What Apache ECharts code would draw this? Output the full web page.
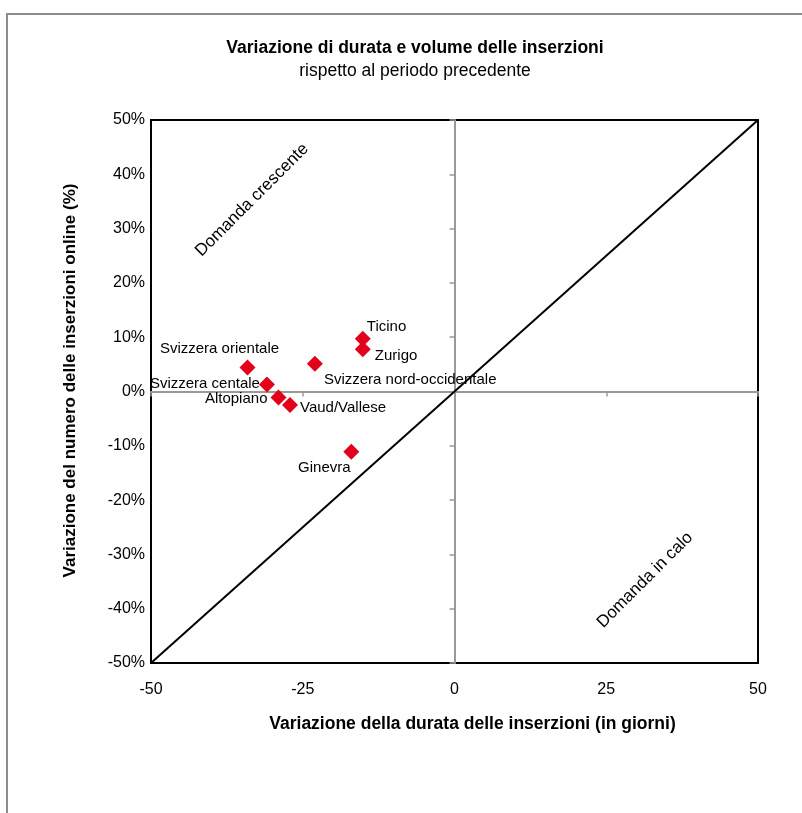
<!DOCTYPE html>
<html><head><meta charset="utf-8">
<script src="https://cdn.jsdelivr.net/npm/echarts@6/dist/echarts.min.js"></script>
<style>html,body{margin:0;padding:0;background:#fff}#c{width:802px;height:813px}</style>
</head><body><div id="c"></div>
<script>
const regions = ['Svizzera orientale','Svizzera centale','Altopiano','Vaud/Vallese','Svizzera nord-occidentale','Ticino','Zurigo','Ginevra'];
const durationChange = [-34.1, -30.9, -29.0, -27.1, -23.0, -15.1, -15.1, -17.0];
const volumeChange = [4.4, 1.3, -1.1, -2.5, 5.1, 9.7, 7.8, -11.1];
const diagonal = [[-50, -50], [50, 50]];
const xTicks = [-50, -25, 0, 25, 50];
const yTicks = [-50, -40, -30, -20, -10, 0, 10, 20, 30, 40, 50];

const FONT = '"Liberation Sans", Arial, sans-serif';
const labelStyle = {
  'Svizzera orientale': {align: 'center', offset: [-28, -19]},
  'Svizzera centale': {align: 'right', offset: [-7, -1]},
  'Altopiano': {align: 'right', offset: [-11, 1]},
  'Vaud/Vallese': {align: 'left', offset: [10, 3]},
  'Svizzera nord-occidentale': {align: 'left', offset: [9, 16]},
  'Ticino': {align: 'left', offset: [4, -12]},
  'Zurigo': {align: 'left', offset: [12, 7]},
  'Ginevra': {align: 'center', offset: [-27, 16]}
};

const points = regions.map((name, i) => ({
  name,
  value: [durationChange[i], volumeChange[i]],
  label: {
    show: true, position: 'inside', formatter: name,
    align: labelStyle[name].align, verticalAlign: 'middle',
    offset: labelStyle[name].offset,
    color: '#000', fontSize: 15, fontFamily: FONT
  }
}));

const chart = echarts.init(document.getElementById('c'), null, {renderer: 'canvas'});
const xMin = xTicks[0], xMax = xTicks[xTicks.length - 1];
const yMin = yTicks[0], yMax = yTicks[yTicks.length - 1];
chart.setOption({
  animation: false,
  title: {
    text: 'Variazione di durata e volume delle inserzioni',
    subtext: 'rispetto al periodo precedente',
    left: 410, top: 34, textAlign: 'center', itemGap: 5,
    textStyle: {fontFamily: FONT, fontSize: 17.5, fontWeight: 'bold', color: '#000'},
    subtextStyle: {fontFamily: FONT, fontSize: 17.5, color: '#000'}
  },
  graphic: [
    {type: 'rect', shape: {x: 7, y: 14, width: 900, height: 900}, style: {fill: 'none', stroke: '#8c8c8c', lineWidth: 2}, z: -1},
    {type: 'text', x: 252, y: 200, rotation: Math.PI / 4, style: {text: 'Domanda crescente', fontFamily: FONT, fontSize: 17, fill: '#000', align: 'center', verticalAlign: 'middle'}},
    {type: 'text', x: 645, y: 580, rotation: Math.PI / 4, style: {text: 'Domanda in calo', fontFamily: FONT, fontSize: 17, fill: '#000', align: 'center', verticalAlign: 'middle'}}
  ],
  grid: {left: 151, top: 120, width: 607, height: 543, show: true, borderColor: '#000', borderWidth: 2, backgroundColor: 'transparent'},
  xAxis: [
    {type: 'value', min: xMin, max: xMax, interval: 25, position: 'bottom',
     axisLine: {show: false, onZero: false}, axisTick: {show: false}, splitLine: {show: false},
     axisLabel: {fontFamily: FONT, fontSize: 16, color: '#000', margin: 19},
     name: 'Variazione della durata delle inserzioni (in giorni)', nameLocation: 'middle', nameGap: 52,
     nameTextStyle: {fontFamily: FONT, fontSize: 17.5, fontWeight: 'bold', color: '#000', padding: [0, 0, 0, 36]}},
    {type: 'value', min: xMin, max: xMax, interval: 25, position: 'bottom',
     axisLine: {show: true, onZero: true, lineStyle: {color: '#999', width: 2}},
     axisTick: {show: true, length: 5, lineStyle: {color: '#999', width: 1.5}},
     axisLabel: {show: false}, splitLine: {show: false}}
  ],
  yAxis: [
    {type: 'value', min: yMin, max: yMax, interval: 10, position: 'left',
     axisLine: {show: false, onZero: false}, axisTick: {show: false}, splitLine: {show: false},
     axisLabel: {fontFamily: FONT, fontSize: 16, color: '#000', margin: 6, formatter: '{value}%'},
     name: 'Variazione del numero delle inserzioni online (%)', nameLocation: 'middle', nameGap: 72, nameRotate: 90,
     nameTextStyle: {fontFamily: FONT, fontSize: 17, fontWeight: 'bold', color: '#000', padding: [0, 0, 0, 22]}},
    {type: 'value', min: yMin, max: yMax, interval: 10, position: 'left',
     axisLine: {show: true, onZero: true, lineStyle: {color: '#999', width: 2}},
     axisTick: {show: true, length: 5, lineStyle: {color: '#999', width: 1.5}},
     axisLabel: {show: false}, splitLine: {show: false}}
  ],
  series: [
    {type: 'line', xAxisIndex: 0, yAxisIndex: 0, data: diagonal, symbol: 'none',
     lineStyle: {color: '#000', width: 2}, silent: true, z: 2},
    {type: 'scatter', xAxisIndex: 0, yAxisIndex: 0, data: points, symbol: 'diamond', symbolSize: [16, 16],
     itemStyle: {color: '#E2001A', opacity: 1}, z: 3}
  ]
});
</script></body></html>
